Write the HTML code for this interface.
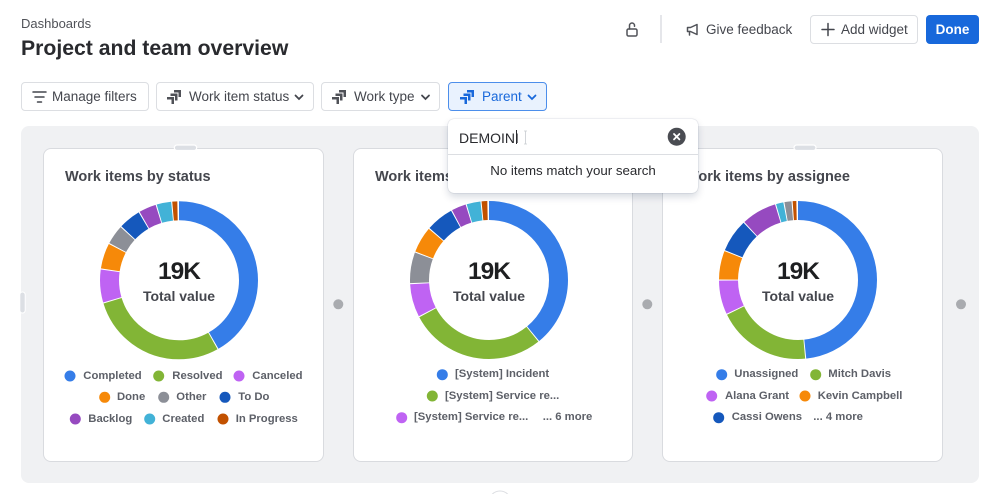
<!DOCTYPE html>
<html><head><meta charset="utf-8">
<style>
*{margin:0;padding:0;box-sizing:border-box}
html,body{width:999px;height:494px;background:#fff;overflow:hidden}
body{font-family:"Liberation Sans",Arial,sans-serif;position:relative}
.a{position:absolute;white-space:nowrap;line-height:1.15}
.box{position:absolute}
.btn{position:absolute;background:#fff;border:1px solid #DCDEE2;border-radius:4px}
.leg{position:absolute;white-space:nowrap;line-height:1.15;font-size:11.3px;font-weight:bold;color:#5D6068}
.ttl{position:absolute;white-space:nowrap;line-height:1.15;font-size:14.5px;font-weight:bold;color:#44464D;top:169.4px}
.big{position:absolute;width:160px;text-align:center;white-space:nowrap;line-height:1.15;font-size:24.5px;font-weight:bold;color:#1E1F21;letter-spacing:-1px;top:258.2px}
.tv{position:absolute;width:160px;text-align:center;white-space:nowrap;line-height:1.15;font-size:14px;font-weight:bold;color:#44464D;top:288.1px}
.ftx{position:absolute;white-space:nowrap;line-height:1.15;font-size:13.5px;color:#44464D;top:89.3px}
</style></head><body>

<!-- header -->
<div class="a" style="left:21px;top:16.5px;font-size:13px;color:#505258">Dashboards</div>
<div class="a" style="left:21px;top:37.2px;font-size:21.2px;font-weight:bold;color:#292A2E">Project and team overview</div>

<div class="btn" style="left:810px;top:15px;width:108px;height:29px"></div>
<div class="box" style="left:926px;top:15px;width:53px;height:29px;background:#1868DB;border-radius:4px"></div>
<div class="a" style="left:706px;top:21.9px;font-size:13.5px;color:#44464D">Give feedback</div>
<div class="a" style="left:841px;top:21.9px;font-size:13.5px;color:#44464D">Add widget</div>
<div class="a" style="left:926px;top:21.9px;width:53px;text-align:center;font-size:13.5px;font-weight:bold;color:#fff">Done</div>

<!-- filter buttons -->
<div class="btn" style="left:21px;top:82px;width:128px;height:29px"></div>
<div class="btn" style="left:156px;top:82px;width:158px;height:29px"></div>
<div class="btn" style="left:321px;top:82px;width:119px;height:29px"></div>
<div class="btn" style="left:448px;top:82px;width:99px;height:29px;background:#E9F2FE;border-color:#4C8EEB"></div>
<div class="ftx" style="left:52px">Manage filters</div>
<div class="ftx" style="left:189px">Work item status</div>
<div class="ftx" style="left:354px">Work type</div>
<div class="ftx" style="left:482px;color:#1868DB">Parent</div>

<!-- container & cards -->
<div class="box" style="left:21px;top:126px;width:958px;height:357px;background:#F0F1F3;border-radius:8px"></div>
<div class="box" style="left:42.5px;top:147.5px;width:281.5px;height:314.5px;background:#fff;border:1px solid #D9DBDF;border-radius:8px"></div>
<div class="box" style="left:353px;top:147.5px;width:280px;height:314.5px;background:#fff;border:1px solid #D9DBDF;border-radius:8px"></div>
<div class="box" style="left:662px;top:147.5px;width:281px;height:314.5px;background:#fff;border:1px solid #D9DBDF;border-radius:8px"></div>

<svg class="box" style="left:0;top:0" width="999" height="494" viewBox="0 0 999 494">
  <g fill="none" stroke="#505258" stroke-width="1.5" stroke-linecap="round">
    <rect x="627" y="29" width="10" height="7" rx="1.5"/>
    <path d="M629.5 29 V25.5 A2.5 2.5 0 0 1 634.5 25.5 V26.2"/>
    <path d="M687.5 27.5 h3 l6.5 -3 v10 l-6.5 -3 h-3 z" stroke-linejoin="round"/>
    <path d="M689.5 31.5 v3.5"/>
    <path d="M822 29.5 h12 M828 23.5 v12" stroke="#44464D"/>
    <path d="M33 92 h13 M35 97 h9 M37.5 102 h4" stroke="#44464D"/>
    <path d="M295.5 95.5 l3.5 3.5 l3.5 -3.5" stroke="#44464D" stroke-width="1.8"/>
    <path d="M422 95.5 l3.5 3.5 l3.5 -3.5" stroke="#44464D" stroke-width="1.8"/>
    <path d="M528.5 95.5 l3.5 3.5 l3.5 -3.5" stroke="#1868DB" stroke-width="1.8"/>
  </g>
  <line x1="661" y1="15" x2="661" y2="43" stroke="#DCDEE2" stroke-width="1.5"/>
  <defs>
    <g id="jira">
      <polygon points="8,1 15,1 15,8 12.5,8 12.5,3.5 8,3.5"/>
      <polygon points="4.5,4.5 11.5,4.5 11.5,11.5 9,11.5 9,7 4.5,7"/>
      <polygon points="1,8 8,8 8,15 5.5,15 5.5,10.5 1,10.5"/>
    </g>
  </defs>
  <use href="#jira" x="166" y="89" fill="#505258"/>
  <use href="#jira" x="331" y="89" fill="#505258"/>
  <use href="#jira" x="459" y="89" fill="#1868DB"/>

  <rect x="174.3" y="145" width="22.4" height="5.5" rx="2.75" fill="#DCDFE4" stroke="#fff" stroke-width="1.2"/>
  <rect x="794" y="145" width="22" height="5.5" rx="2.75" fill="#DCDFE4" stroke="#fff" stroke-width="1.2"/>
  <rect x="19.8" y="292" width="5.4" height="21" rx="2.7" fill="#DCDFE4" stroke="#fff" stroke-width="1"/>
  <circle cx="338.3" cy="304.3" r="5" fill="#A9ABAF"/>
  <circle cx="647.3" cy="304.3" r="5" fill="#A9ABAF"/>
  <circle cx="961" cy="304.3" r="5" fill="#A9ABAF"/>
  <circle cx="500" cy="502" r="11" fill="#fff" stroke="#DCDEE2"/>

  <g fill="none" stroke-width="19" transform="rotate(-90 179 280.3)">
    <circle cx="179" cy="280.3" r="69.5" pathLength="360" stroke="#357DE8" stroke-dasharray="150.2 400" stroke-dashoffset="0"/>
    <circle cx="179" cy="280.3" r="69.5" pathLength="360" stroke="#82B536" stroke-dasharray="102.2 400" stroke-dashoffset="-151"/>
    <circle cx="179" cy="280.3" r="69.5" pathLength="360" stroke="#BF63F3" stroke-dasharray="24.2 400" stroke-dashoffset="-254"/>
    <circle cx="179" cy="280.3" r="69.5" pathLength="360" stroke="#F68909" stroke-dasharray="18.7 400" stroke-dashoffset="-279"/>
    <circle cx="179" cy="280.3" r="69.5" pathLength="360" stroke="#8C8F97" stroke-dasharray="14.2 400" stroke-dashoffset="-298.5"/>
    <circle cx="179" cy="280.3" r="69.5" pathLength="360" stroke="#1558BC" stroke-dasharray="16.2 400" stroke-dashoffset="-313.5"/>
    <circle cx="179" cy="280.3" r="69.5" pathLength="360" stroke="#964AC0" stroke-dasharray="12.7 400" stroke-dashoffset="-330.5"/>
    <circle cx="179" cy="280.3" r="69.5" pathLength="360" stroke="#42B2D7" stroke-dasharray="10.7 400" stroke-dashoffset="-344"/>
    <circle cx="179" cy="280.3" r="69.5" pathLength="360" stroke="#C25100" stroke-dasharray="3.7 400" stroke-dashoffset="-355.5"/>
  </g>
  <g fill="none" stroke-width="19" transform="rotate(-90 489 280)">
    <circle cx="489" cy="280" r="69.5" pathLength="360" stroke="#357DE8" stroke-dasharray="140.7 400" stroke-dashoffset="0"/>
    <circle cx="489" cy="280" r="69.5" pathLength="360" stroke="#82B536" stroke-dasharray="100.7 400" stroke-dashoffset="-141.5"/>
    <circle cx="489" cy="280" r="69.5" pathLength="360" stroke="#BF63F3" stroke-dasharray="24.2 400" stroke-dashoffset="-243"/>
    <circle cx="489" cy="280" r="69.5" pathLength="360" stroke="#8C8F97" stroke-dasharray="22.7 400" stroke-dashoffset="-268"/>
    <circle cx="489" cy="280" r="69.5" pathLength="360" stroke="#F68909" stroke-dasharray="19.2 400" stroke-dashoffset="-291.5"/>
    <circle cx="489" cy="280" r="69.5" pathLength="360" stroke="#1558BC" stroke-dasharray="20.2 400" stroke-dashoffset="-311.5"/>
    <circle cx="489" cy="280" r="69.5" pathLength="360" stroke="#964AC0" stroke-dasharray="10.7 400" stroke-dashoffset="-332.5"/>
    <circle cx="489" cy="280" r="69.5" pathLength="360" stroke="#42B2D7" stroke-dasharray="10.2 400" stroke-dashoffset="-344"/>
    <circle cx="489" cy="280" r="69.5" pathLength="360" stroke="#C25100" stroke-dasharray="4.2 400" stroke-dashoffset="-355"/>
  </g>
  <g fill="none" stroke-width="19" transform="rotate(-90 798 280)">
    <circle cx="798" cy="280" r="69.5" pathLength="360" stroke="#357DE8" stroke-dasharray="174.2 400" stroke-dashoffset="0"/>
    <circle cx="798" cy="280" r="69.5" pathLength="360" stroke="#82B536" stroke-dasharray="69.2 400" stroke-dashoffset="-175"/>
    <circle cx="798" cy="280" r="69.5" pathLength="360" stroke="#BF63F3" stroke-dasharray="24.9 400" stroke-dashoffset="-245"/>
    <circle cx="798" cy="280" r="69.5" pathLength="360" stroke="#F68909" stroke-dasharray="21.1 400" stroke-dashoffset="-270.7"/>
    <circle cx="798" cy="280" r="69.5" pathLength="360" stroke="#1558BC" stroke-dasharray="24.2 400" stroke-dashoffset="-292.6"/>
    <circle cx="798" cy="280" r="69.5" pathLength="360" stroke="#964AC0" stroke-dasharray="25.9 400" stroke-dashoffset="-317.6"/>
    <circle cx="798" cy="280" r="69.5" pathLength="360" stroke="#42B2D7" stroke-dasharray="5.4 400" stroke-dashoffset="-344.3"/>
    <circle cx="798" cy="280" r="69.5" pathLength="360" stroke="#8C8F97" stroke-dasharray="5.2 400" stroke-dashoffset="-350.5"/>
    <circle cx="798" cy="280" r="69.5" pathLength="360" stroke="#C25100" stroke-dasharray="2.7 400" stroke-dashoffset="-356.5"/>
  </g>

  <circle cx="70" cy="376" r="5.5" fill="#357DE8"/>
  <circle cx="158.7" cy="376" r="5.5" fill="#82B536"/>
  <circle cx="239" cy="376" r="5.5" fill="#BF63F3"/>
  <circle cx="104.7" cy="397.3" r="5.5" fill="#F68909"/>
  <circle cx="163.7" cy="397.3" r="5.5" fill="#8C8F97"/>
  <circle cx="225" cy="397.3" r="5.5" fill="#1558BC"/>
  <circle cx="75.3" cy="419" r="5.5" fill="#964AC0"/>
  <circle cx="149.7" cy="419" r="5.5" fill="#42B2D7"/>
  <circle cx="223" cy="419" r="5.5" fill="#C25100"/>
  <circle cx="442.3" cy="374.7" r="5.5" fill="#357DE8"/>
  <circle cx="432.3" cy="396" r="5.5" fill="#82B536"/>
  <circle cx="401.7" cy="417.7" r="5.5" fill="#BF63F3"/>
  <circle cx="721.7" cy="374.7" r="5.5" fill="#357DE8"/>
  <circle cx="815.7" cy="374.7" r="5.5" fill="#82B536"/>
  <circle cx="711.7" cy="396" r="5.5" fill="#BF63F3"/>
  <circle cx="805" cy="396" r="5.5" fill="#F68909"/>
  <circle cx="718.7" cy="417.7" r="5.5" fill="#1558BC"/>
</svg>

<div class="ttl" style="left:65px">Work items by status</div>
<div class="ttl" style="left:375px">Work items by type</div>
<div class="ttl" style="left:685px">Work items by assignee</div>

<div class="big" style="left:99px">19K</div>
<div class="tv" style="left:99px">Total value</div>
<div class="big" style="left:409px">19K</div>
<div class="tv" style="left:409px">Total value</div>
<div class="big" style="left:718px">19K</div>
<div class="tv" style="left:718px">Total value</div>

<div class="leg" style="left:83.3px;top:369.6px">Completed</div>
<div class="leg" style="left:172.3px;top:369.6px">Resolved</div>
<div class="leg" style="left:252.3px;top:369.6px">Canceled</div>
<div class="leg" style="left:117px;top:390.9px">Done</div>
<div class="leg" style="left:176.3px;top:390.9px">Other</div>
<div class="leg" style="left:238.3px;top:390.9px">To Do</div>
<div class="leg" style="left:88.3px;top:412.6px">Backlog</div>
<div class="leg" style="left:162.3px;top:412.6px">Created</div>
<div class="leg" style="left:235.7px;top:412.6px">In Progress</div>

<div class="leg" style="left:455px;top:368.3px">[System] Incident</div>
<div class="leg" style="left:445px;top:389.6px">[System] Service re...</div>
<div class="leg" style="left:414px;top:411.3px">[System] Service re...</div>
<div class="leg" style="left:542.7px;top:411.3px">... 6 more</div>

<div class="leg" style="left:734.3px;top:368.3px">Unassigned</div>
<div class="leg" style="left:828.3px;top:368.3px">Mitch Davis</div>
<div class="leg" style="left:725px;top:389.6px">Alana Grant</div>
<div class="leg" style="left:817.7px;top:389.6px">Kevin Campbell</div>
<div class="leg" style="left:731.7px;top:411.3px">Cassi Owens</div>
<div class="leg" style="left:813.3px;top:411.3px">... 4 more</div>

<div class="box" style="left:448px;top:119px;width:250px;height:74px;background:#fff;border-radius:6px;box-shadow:0 4px 8px rgba(9,30,66,0.16),0 0 1px rgba(9,30,66,0.35);z-index:5">
  <div class="a" style="left:11px;top:10.6px;font-size:14px;color:#292A2E">DEMOINI</div>
  <div class="box" style="left:0;top:35px;width:250px;height:1px;background:#DCDEE2"></div>
  <div class="a" style="left:0;width:250px;text-align:center;top:43.8px;font-size:13.3px;color:#292A2E">No items match your search</div>
  <svg class="box" style="left:0;top:0" width="250" height="74">
    <line x1="68.5" y1="11" x2="68.5" y2="25" stroke="#292A2E" stroke-width="1"/>
    <path d="M76 12 h3 M77.5 12 v13 M76 25 h3" stroke="#C8CBD0" stroke-width="0.8" fill="none"/>
    <circle cx="228.7" cy="17.7" r="9" fill="#4A4C52"/>
    <path d="M226 15 l5.4 5.4 M231.4 15 l-5.4 5.4" stroke="#fff" stroke-width="1.8" stroke-linecap="round"/>
  </svg>
</div>

</body></html>
